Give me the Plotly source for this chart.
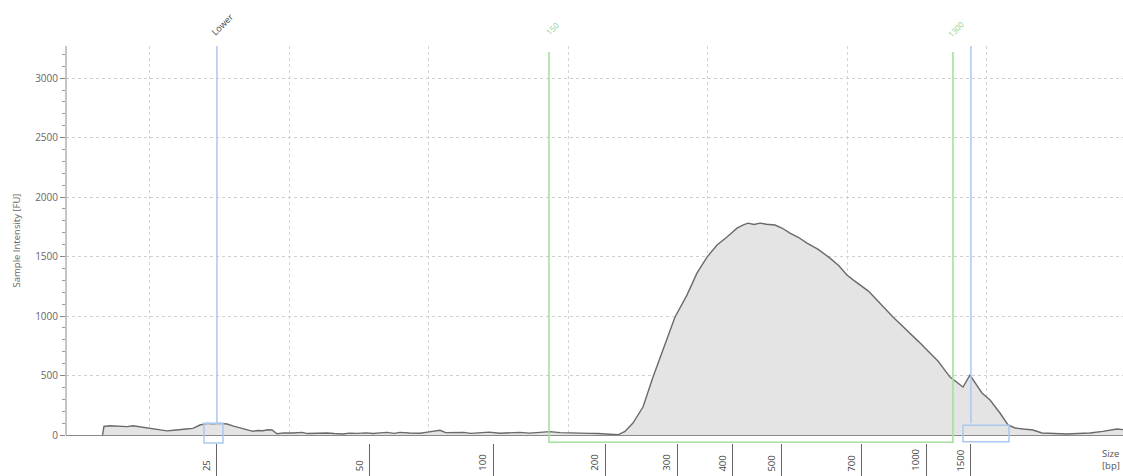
import plotly.graph_objects as go

# ---- data (x = migration time units, y = intensity FU) ----
time_s = [36.60, 36.70, 37.13, 37.6, 38.0, 38.35, 38.78, 39.3, 39.78, 40.3, 40.8, 41.22, 41.7, 42.15,
          42.6, 43.08, 43.58, 44.09, 44.5, 45.02, 45.52, 46.0, 46.45, 46.9, 47.38, 47.7, 48.10, 48.45,
          48.75, 49.10, 49.6, 50.25, 50.9, 51.3, 51.68, 52.2, 52.69, 53.2, 53.84, 54.3, 54.84, 55.5,
          56.0, 56.49, 57.0, 57.5, 57.92, 58.6, 59.35, 59.9, 60.4, 60.79, 61.2, 61.86, 62.5, 63.0,
          63.66, 64.3, 65.09, 65.7, 66.52, 67.2, 67.9, 68.67, 69.4, 70.11, 70.8, 71.54, 72.1, 72.62,
          73.1, 73.55, 74.05, 74.62, 75.34, 76.06, 76.77, 77.63, 78.49, 79.21, 79.93, 80.65, 81.36,
          82.08, 82.5, 82.87, 83.3, 83.73, 84.2, 84.80, 85.3, 85.88, 86.5, 87.10, 87.9, 88.75, 89.4,
          89.96, 90.45, 90.90, 91.5, 92.11, 92.7, 93.26, 93.9, 94.48, 95.1, 95.70, 96.5, 97.35, 97.8,
          98.28, 98.78, 99.2, 99.64, 100.22, 100.93, 101.51, 102.01, 102.6, 103.30, 103.94, 104.8,
          105.73, 106.5, 107.38, 108.3, 109.32, 109.75]
intensity_fu = [0, 72, 78, 74, 71, 70, 78, 68, 61, 55, 42, 35, 40, 42,
                50, 56, 84, 98, 95, 98, 92, 75, 59, 45, 31, 38, 36, 44,
                42, 10, 18, 17, 22, 12, 14, 20, 17, 12, 8, 16, 14, 18,
                12, 18, 22, 14, 22, 17, 15, 24, 30, 40, 20, 18, 22, 14,
                20, 24, 15, 20, 22, 16, 24, 28, 20, 18, 22, 14, 12, 8,
                6, 2, 30, 100, 235, 487, 714, 990, 1176, 1361, 1496, 1597, 1664,
                1739, 1765, 1781, 1770, 1781, 1772, 1765, 1740, 1697, 1660, 1613, 1560, 1487, 1420,
                1345, 1300, 1260, 1210, 1134, 1060, 992, 920, 857, 785, 714, 620, 487, 450,
                403, 504, 430, 353, 294, 185, 84, 59, 50, 42, 17, 12,
                8, 12, 17, 30, 50, 45]

# size ladder: bp labels and their positions on the time axis
bp_labels = ["25", "50", "100", "200", "300", "400", "500", "700", "1000", "1500"]
bp_positions = [44.80, 55.77, 64.59, 72.62, 77.78, 81.79, 85.30, 91.04, 95.63, 98.85]

# markers and region
lower_marker = 44.80
upper_marker = 98.85
lower_box = [43.87, 45.23]
upper_box = [98.28, 101.58]
region_start, region_end = 68.60, 97.56
region_labels = ["150", "1300"]

x_range = [33.98, 109.75]
y_range = [0, 3270]

BLUE = "#a9c8f0"
GREEN = "#a6dfa0"
FONT = "Open Sans"

fig = go.Figure()
fig.add_trace(go.Scatter(
    x=time_s, y=intensity_fu, mode="lines",
    line=dict(color="#6a6a6a", width=1.4),
    fill="tozeroy", fillcolor="#e4e4e4",
    hoverinfo="skip", showlegend=False,
))
# empty trace so the size-ladder axis is drawn
fig.add_trace(go.Scatter(x=[], y=[], xaxis="x2", yaxis="y", mode="lines",
                         showlegend=False, hoverinfo="skip"))

shapes = []
shapes.append(dict(type="line", xref="x", yref="paper", x0=lower_marker, x1=lower_marker,
                   y0=0.05, y1=1.0, line=dict(color=BLUE, width=1.5)))
shapes.append(dict(type="rect", xref="x", yref="paper", x0=lower_box[0], x1=lower_box[1],
                   y0=0.0, y1=0.05, line=dict(color=BLUE, width=1.5)))
shapes.append(dict(type="line", xref="x", yref="paper", x0=upper_marker, x1=upper_marker,
                   y0=0.05, y1=1.0, line=dict(color=BLUE, width=1.5)))
shapes.append(dict(type="rect", xref="x", yref="paper", x0=upper_box[0], x1=upper_box[1],
                   y0=0.003, y1=0.045, line=dict(color=BLUE, width=1.5)))
shapes.append(dict(type="path", xref="x", yref="paper",
                   path=f"M {region_start},0.985 L {region_start},0.002 L {region_end},0.002 L {region_end},0.985",
                   line=dict(color=GREEN, width=1.6)))
shapes.append(dict(type="line", xref="paper", yref="y", x0=0, x1=0, y0=0, y1=y_range[1],
                   line=dict(color="#8a8a8a", width=1)))

annotations = []
for lab, pos in zip(bp_labels, bp_positions):
    annotations.append(dict(x=pos, y=-0.076, xref="x", yref="paper", text=lab, showarrow=False,
                            textangle=-90, xanchor="right", yanchor="bottom", xshift=-2,
                            font=dict(family=FONT, size=9.5, color="#444")))
annotations.append(dict(x=lower_marker, y=1.055, xref="x", yref="paper", text="Lower", showarrow=False,
                        textangle=-45, xanchor="center", yanchor="middle", xshift=5,
                        font=dict(family=FONT, size=9, color="#444")))
for lab, pos in zip(region_labels, [region_start, region_end]):
    annotations.append(dict(x=pos, y=1.045, xref="x", yref="paper", text=lab, showarrow=False,
                            textangle=-45, xanchor="center", yanchor="middle", xshift=3,
                            font=dict(family=FONT, size=8, color="#8fd488")))
annotations.append(dict(x=1.0, y=-0.005, xref="paper", yref="paper", text="Size<br>[bp]",
                        showarrow=False, xanchor="right", yanchor="top", align="left", xshift=-1,
                        font=dict(family=FONT, size=9.5, color="#555")))

fig.update_layout(
    width=1123, height=476,
    margin=dict(l=66, r=0, t=46, b=33, autoexpand=False),
    paper_bgcolor="white", plot_bgcolor="white",
    font=dict(family=FONT, size=10, color="#555"),
    shapes=shapes, annotations=annotations,
    xaxis=dict(range=x_range, showgrid=True, gridcolor="#d4d4d4", griddash="dot", gridwidth=1,
               tick0=0, dtick=10, showticklabels=False, ticks="", showline=False, zeroline=False,
               automargin=False),
    xaxis2=dict(overlaying="x", anchor="free", position=0, range=x_range,
                tickmode="array", tickvals=bp_positions, ticktext=[""] * len(bp_positions),
                showticklabels=False, ticks="outside", ticklen=33, tickcolor="#666", tickwidth=1,
                showgrid=False, showline=False, zeroline=False, automargin=False),
    yaxis=dict(range=y_range, domain=[0.02015, 1], tick0=0, dtick=500,
               showgrid=True, gridcolor="#d0d0d0", griddash="dot", gridwidth=1,
               zeroline=True, zerolinecolor="#8a8a8a", zerolinewidth=1.2,
               showline=False, ticks="outside", ticklen=5, tickcolor="#888", automargin=False,
               minor=dict(dtick=100, ticks="outside", ticklen=3, tickcolor="#999", showgrid=False),
               tickfont=dict(family=FONT, size=10, color="#666"),
               title=dict(text="Sample Intensity [FU]", font=dict(family=FONT, size=9.5, color="#666"),
                          standoff=12)),
)

# remove the default page margin so the figure fills the window exactly
fig.write_html("out.html", config={"displayModeBar": False},
               post_script="document.body.style.margin='0';document.body.style.overflow='hidden';")
